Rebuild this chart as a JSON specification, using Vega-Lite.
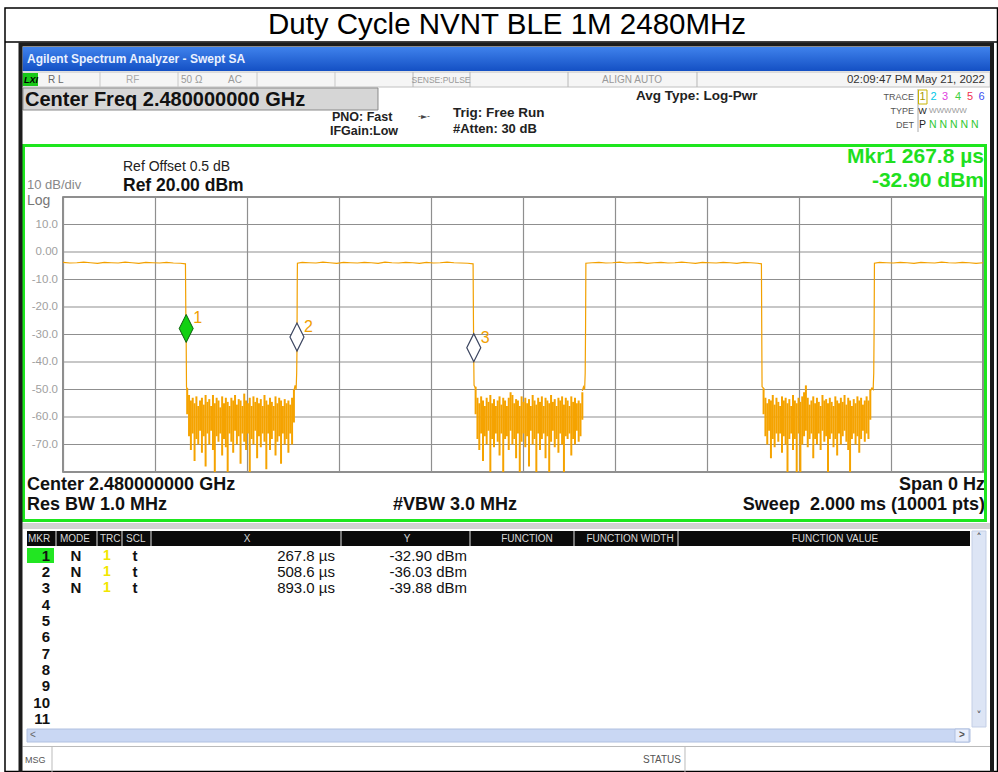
{
"$schema":"https://vega.github.io/schema/vega-lite/v6.json",
"width":920,"height":275,
"autosize":{"type":"none"},
"padding":{"left":63,"top":197,"right":15,"bottom":300},
"background":"#ffffff",
"config":{"view":{"stroke":"#6a6a6a","strokeWidth":1.5},"axis":{"gridColor":"#8f8f8f","gridWidth":1.2,"gridOpacity":1}},
"datasets":{
"one":[{}],
"trace":[
{"seg":"a","t":0.000,"v":-3.8},{"seg":"a","t":0.015,"v":-4.0},{"seg":"a","t":0.030,"v":-3.9},{"seg":"a","t":0.045,"v":-3.7},{"seg":"a","t":0.060,"v":-3.9},{"seg":"a","t":0.075,"v":-4.1},{"seg":"a","t":0.090,"v":-3.8},{"seg":"a","t":0.105,"v":-3.9},{"seg":"a","t":0.120,"v":-4.0},{"seg":"a","t":0.135,"v":-3.7},{"seg":"a","t":0.150,"v":-3.9},{"seg":"a","t":0.165,"v":-4.1},{"seg":"a","t":0.180,"v":-3.8},{"seg":"a","t":0.195,"v":-3.9},{"seg":"a","t":0.210,"v":-4.0},{"seg":"a","t":0.225,"v":-3.8},{"seg":"a","t":0.240,"v":-4.0},{"seg":"a","t":0.255,"v":-4.1},{"seg":"a","t":0.2662,"v":-4.3},{"seg":"a","t":0.2670,"v":-22},{"seg":"a","t":0.2678,"v":-32.9},{"seg":"a","t":0.2685,"v":-49},{"seg":"a","t":0.2700,"v":-50},
{"seg":"b","t":0.5020,"v":-50.5},{"seg":"b","t":0.5045,"v":-48.5},{"seg":"b","t":0.5068,"v":-50},{"seg":"b","t":0.5080,"v":-44},{"seg":"b","t":0.5086,"v":-36.03},{"seg":"b","t":0.5092,"v":-12},{"seg":"b","t":0.5096,"v":-4.1},{"seg":"b","t":0.520,"v":-3.8},{"seg":"b","t":0.535,"v":-3.9},{"seg":"b","t":0.550,"v":-4.0},{"seg":"b","t":0.565,"v":-3.7},{"seg":"b","t":0.580,"v":-3.9},{"seg":"b","t":0.595,"v":-4.1},{"seg":"b","t":0.610,"v":-3.8},{"seg":"b","t":0.625,"v":-3.9},{"seg":"b","t":0.640,"v":-4.0},{"seg":"b","t":0.655,"v":-3.8},{"seg":"b","t":0.670,"v":-3.9},{"seg":"b","t":0.685,"v":-4.1},{"seg":"b","t":0.700,"v":-3.7},{"seg":"b","t":0.715,"v":-3.9},{"seg":"b","t":0.730,"v":-4.0},{"seg":"b","t":0.745,"v":-3.8},{"seg":"b","t":0.760,"v":-3.9},{"seg":"b","t":0.775,"v":-4.1},{"seg":"b","t":0.790,"v":-3.8},{"seg":"b","t":0.805,"v":-4.0},{"seg":"b","t":0.820,"v":-3.9},{"seg":"b","t":0.835,"v":-3.7},{"seg":"b","t":0.850,"v":-3.9},{"seg":"b","t":0.865,"v":-4.0},{"seg":"b","t":0.880,"v":-4.1},{"seg":"b","t":0.8915,"v":-4.3},{"seg":"b","t":0.8923,"v":-25},{"seg":"b","t":0.8930,"v":-39.88},{"seg":"b","t":0.8936,"v":-48.5},{"seg":"b","t":0.8970,"v":-49.5},
{"seg":"c","t":1.1290,"v":-50.5},{"seg":"c","t":1.1315,"v":-49},{"seg":"c","t":1.1340,"v":-50},{"seg":"c","t":1.1352,"v":-44},{"seg":"c","t":1.1360,"v":-28},{"seg":"c","t":1.1367,"v":-4.1},{"seg":"c","t":1.150,"v":-3.9},{"seg":"c","t":1.165,"v":-3.8},{"seg":"c","t":1.180,"v":-4.0},{"seg":"c","t":1.195,"v":-3.9},{"seg":"c","t":1.210,"v":-3.7},{"seg":"c","t":1.225,"v":-4.0},{"seg":"c","t":1.240,"v":-3.9},{"seg":"c","t":1.255,"v":-3.8},{"seg":"c","t":1.270,"v":-4.1},{"seg":"c","t":1.285,"v":-3.9},{"seg":"c","t":1.300,"v":-3.8},{"seg":"c","t":1.315,"v":-4.0},{"seg":"c","t":1.330,"v":-3.9},{"seg":"c","t":1.345,"v":-3.7},{"seg":"c","t":1.360,"v":-3.9},{"seg":"c","t":1.375,"v":-4.1},{"seg":"c","t":1.390,"v":-3.8},{"seg":"c","t":1.405,"v":-3.9},{"seg":"c","t":1.420,"v":-4.0},{"seg":"c","t":1.435,"v":-3.8},{"seg":"c","t":1.450,"v":-3.9},{"seg":"c","t":1.465,"v":-4.1},{"seg":"c","t":1.480,"v":-3.8},{"seg":"c","t":1.495,"v":-3.9},{"seg":"c","t":1.510,"v":-4.1},{"seg":"c","t":1.5183,"v":-4.3},{"seg":"c","t":1.5190,"v":-28},{"seg":"c","t":1.5197,"v":-49},{"seg":"c","t":1.5230,"v":-49.5},
{"seg":"d","t":1.7550,"v":-50.5},{"seg":"d","t":1.7585,"v":-49.5},{"seg":"d","t":1.7612,"v":-50},{"seg":"d","t":1.7625,"v":-44},{"seg":"d","t":1.7633,"v":-28},{"seg":"d","t":1.7640,"v":-4.1},{"seg":"d","t":1.775,"v":-3.8},{"seg":"d","t":1.790,"v":-3.9},{"seg":"d","t":1.805,"v":-4.0},{"seg":"d","t":1.820,"v":-3.8},{"seg":"d","t":1.835,"v":-3.9},{"seg":"d","t":1.850,"v":-4.1},{"seg":"d","t":1.865,"v":-3.8},{"seg":"d","t":1.880,"v":-3.9},{"seg":"d","t":1.895,"v":-4.0},{"seg":"d","t":1.910,"v":-3.7},{"seg":"d","t":1.925,"v":-3.9},{"seg":"d","t":1.940,"v":-4.0},{"seg":"d","t":1.955,"v":-3.8},{"seg":"d","t":1.970,"v":-3.9},{"seg":"d","t":1.985,"v":-4.1},{"seg":"d","t":2.000,"v":-3.9}
],
"noise":[
{"t":0.270,"hi":-49.5,"lo":-59},{"t":0.274,"hi":-52,"lo":-67},{"t":0.278,"hi":-54,"lo":-72},{"t":0.282,"hi":-53,"lo":-66},{"t":0.286,"hi":-55,"lo":-76},{"t":0.290,"hi":-52.5,"lo":-68},{"t":0.294,"hi":-56,"lo":-70},{"t":0.298,"hi":-54,"lo":-65},{"t":0.302,"hi":-53,"lo":-73},{"t":0.306,"hi":-55.5,"lo":-67},{"t":0.310,"hi":-52,"lo":-78},{"t":0.314,"hi":-54.5,"lo":-66},{"t":0.318,"hi":-53.5,"lo":-70},{"t":0.322,"hi":-56,"lo":-65},{"t":0.326,"hi":-52,"lo":-72},{"t":0.330,"hi":-55,"lo":-80},{"t":0.334,"hi":-53,"lo":-67},{"t":0.338,"hi":-54,"lo":-69},{"t":0.342,"hi":-56.5,"lo":-66},{"t":0.346,"hi":-52.5,"lo":-74},{"t":0.350,"hi":-55,"lo":-68},{"t":0.354,"hi":-53,"lo":-71},{"t":0.358,"hi":-54.5,"lo":-80},{"t":0.362,"hi":-56,"lo":-66},{"t":0.366,"hi":-53,"lo":-69},{"t":0.370,"hi":-54,"lo":-73},{"t":0.374,"hi":-52,"lo":-65},{"t":0.378,"hi":-55.5,"lo":-70},{"t":0.382,"hi":-53.5,"lo":-67},{"t":0.386,"hi":-54,"lo":-77},{"t":0.390,"hi":-56,"lo":-66},{"t":0.394,"hi":-51.5,"lo":-69},{"t":0.398,"hi":-54,"lo":-72},{"t":0.402,"hi":-55,"lo":-66},{"t":0.406,"hi":-53,"lo":-80},{"t":0.410,"hi":-56,"lo":-68},{"t":0.414,"hi":-52.5,"lo":-70},{"t":0.418,"hi":-54.5,"lo":-65},{"t":0.422,"hi":-53,"lo":-75},{"t":0.426,"hi":-55,"lo":-67},{"t":0.430,"hi":-53.5,"lo":-71},{"t":0.434,"hi":-56,"lo":-66},{"t":0.438,"hi":-52,"lo":-69},{"t":0.442,"hi":-54,"lo":-79},{"t":0.446,"hi":-55.5,"lo":-66},{"t":0.450,"hi":-53,"lo":-72},{"t":0.454,"hi":-54.5,"lo":-68},{"t":0.458,"hi":-56,"lo":-65},{"t":0.462,"hi":-52.5,"lo":-74},{"t":0.466,"hi":-55,"lo":-69},{"t":0.470,"hi":-53,"lo":-67},{"t":0.474,"hi":-54,"lo":-77},{"t":0.478,"hi":-56,"lo":-66},{"t":0.482,"hi":-53.5,"lo":-70},{"t":0.486,"hi":-55,"lo":-68},{"t":0.490,"hi":-54,"lo":-73},{"t":0.494,"hi":-55.5,"lo":-66},{"t":0.498,"hi":-53,"lo":-70},{"t":0.502,"hi":-50,"lo":-62},
{"t":0.897,"hi":-49,"lo":-59},{"t":0.901,"hi":-53,"lo":-68},{"t":0.905,"hi":-55,"lo":-72},{"t":0.909,"hi":-52.5,"lo":-66},{"t":0.913,"hi":-54,"lo":-76},{"t":0.917,"hi":-56,"lo":-67},{"t":0.921,"hi":-53,"lo":-70},{"t":0.925,"hi":-54.5,"lo":-65},{"t":0.929,"hi":-52,"lo":-80},{"t":0.933,"hi":-55,"lo":-68},{"t":0.937,"hi":-53.5,"lo":-71},{"t":0.941,"hi":-56,"lo":-66},{"t":0.945,"hi":-54,"lo":-69},{"t":0.949,"hi":-52.5,"lo":-74},{"t":0.953,"hi":-55.5,"lo":-66},{"t":0.957,"hi":-53,"lo":-80},{"t":0.961,"hi":-54,"lo":-68},{"t":0.965,"hi":-56,"lo":-67},{"t":0.969,"hi":-53,"lo":-72},{"t":0.973,"hi":-51,"lo":-65},{"t":0.977,"hi":-52,"lo":-70},{"t":0.981,"hi":-55,"lo":-68},{"t":0.985,"hi":-53.5,"lo":-75},{"t":0.989,"hi":-54,"lo":-66},{"t":0.993,"hi":-56,"lo":-80},{"t":0.997,"hi":-52.5,"lo":-69},{"t":1.001,"hi":-54.5,"lo":-66},{"t":1.005,"hi":-53,"lo":-71},{"t":1.009,"hi":-55,"lo":-67},{"t":1.013,"hi":-53.5,"lo":-78},{"t":1.017,"hi":-56,"lo":-65},{"t":1.021,"hi":-52,"lo":-70},{"t":1.025,"hi":-54,"lo":-68},{"t":1.029,"hi":-55.5,"lo":-80},{"t":1.033,"hi":-53,"lo":-66},{"t":1.037,"hi":-54.5,"lo":-72},{"t":1.041,"hi":-52.5,"lo":-68},{"t":1.045,"hi":-56,"lo":-66},{"t":1.049,"hi":-53,"lo":-75},{"t":1.053,"hi":-54,"lo":-67},{"t":1.057,"hi":-55,"lo":-80},{"t":1.061,"hi":-52,"lo":-69},{"t":1.065,"hi":-54.5,"lo":-65},{"t":1.069,"hi":-53.5,"lo":-71},{"t":1.073,"hi":-56,"lo":-68},{"t":1.077,"hi":-53,"lo":-73},{"t":1.081,"hi":-54,"lo":-66},{"t":1.085,"hi":-52.5,"lo":-70},{"t":1.089,"hi":-55.5,"lo":-80},{"t":1.093,"hi":-53,"lo":-67},{"t":1.097,"hi":-54,"lo":-68},{"t":1.101,"hi":-56,"lo":-66},{"t":1.105,"hi":-52.5,"lo":-74},{"t":1.109,"hi":-54.5,"lo":-68},{"t":1.113,"hi":-53,"lo":-70},{"t":1.117,"hi":-55,"lo":-65},{"t":1.121,"hi":-54,"lo":-69},{"t":1.125,"hi":-55,"lo":-67},{"t":1.129,"hi":-51,"lo":-61},
{"t":1.523,"hi":-49.5,"lo":-59},{"t":1.527,"hi":-53,"lo":-67},{"t":1.531,"hi":-55,"lo":-70},{"t":1.535,"hi":-53.5,"lo":-65},{"t":1.539,"hi":-54,"lo":-75},{"t":1.543,"hi":-52,"lo":-68},{"t":1.547,"hi":-55.5,"lo":-71},{"t":1.551,"hi":-53,"lo":-66},{"t":1.555,"hi":-54.5,"lo":-69},{"t":1.559,"hi":-56,"lo":-66},{"t":1.563,"hi":-52.5,"lo":-73},{"t":1.567,"hi":-54,"lo":-67},{"t":1.571,"hi":-53,"lo":-70},{"t":1.575,"hi":-55,"lo":-80},{"t":1.579,"hi":-53.5,"lo":-68},{"t":1.583,"hi":-56,"lo":-66},{"t":1.587,"hi":-52,"lo":-72},{"t":1.591,"hi":-54,"lo":-68},{"t":1.595,"hi":-55,"lo":-80},{"t":1.599,"hi":-53,"lo":-66},{"t":1.603,"hi":-54.5,"lo":-80},{"t":1.607,"hi":-52.5,"lo":-70},{"t":1.611,"hi":-51,"lo":-67},{"t":1.615,"hi":-48.5,"lo":-65},{"t":1.619,"hi":-53,"lo":-71},{"t":1.623,"hi":-55.5,"lo":-68},{"t":1.627,"hi":-54,"lo":-66},{"t":1.631,"hi":-52.5,"lo":-75},{"t":1.635,"hi":-55,"lo":-68},{"t":1.639,"hi":-53,"lo":-70},{"t":1.643,"hi":-54.5,"lo":-66},{"t":1.647,"hi":-56,"lo":-72},{"t":1.651,"hi":-52,"lo":-65},{"t":1.655,"hi":-54,"lo":-69},{"t":1.659,"hi":-53.5,"lo":-67},{"t":1.663,"hi":-55,"lo":-80},{"t":1.667,"hi":-53,"lo":-68},{"t":1.671,"hi":-54.5,"lo":-66},{"t":1.675,"hi":-56,"lo":-71},{"t":1.679,"hi":-52.5,"lo":-68},{"t":1.683,"hi":-54,"lo":-74},{"t":1.687,"hi":-55,"lo":-66},{"t":1.691,"hi":-53,"lo":-70},{"t":1.695,"hi":-54.5,"lo":-67},{"t":1.699,"hi":-52,"lo":-65},{"t":1.703,"hi":-55.5,"lo":-69},{"t":1.707,"hi":-53,"lo":-72},{"t":1.711,"hi":-54,"lo":-80},{"t":1.715,"hi":-56,"lo":-68},{"t":1.719,"hi":-53.5,"lo":-66},{"t":1.723,"hi":-55,"lo":-70},{"t":1.727,"hi":-52.5,"lo":-67},{"t":1.731,"hi":-54,"lo":-73},{"t":1.735,"hi":-53,"lo":-68},{"t":1.739,"hi":-55.5,"lo":-65},{"t":1.743,"hi":-54,"lo":-69},{"t":1.747,"hi":-52.5,"lo":-66},{"t":1.751,"hi":-54,"lo":-68},{"t":1.755,"hi":-50,"lo":-61}
],
"levels":[{"db":20,"lab":""},{"db":10,"lab":"10.0"},{"db":0,"lab":"0.00"},{"db":-10,"lab":"-10.0"},{"db":-20,"lab":"-20.0"},{"db":-30,"lab":"-30.0"},{"db":-40,"lab":"-40.0"},{"db":-50,"lab":"-50.0"},{"db":-60,"lab":"-60.0"},{"db":-70,"lab":"-70.0"},{"db":-80,"lab":""}],
"markers":[
{"mkr":1,"t":0.2678,"v":-32.90,"mode":"N","trc":"1","scl":"t","xs":"267.8 µs","ys":"-32.90 dBm"},
{"mkr":2,"t":0.5086,"v":-36.03,"mode":"N","trc":"1","scl":"t","xs":"508.6 µs","ys":"-36.03 dBm"},
{"mkr":3,"t":0.8930,"v":-39.88,"mode":"N","trc":"1","scl":"t","xs":"893.0 µs","ys":"-39.88 dBm"},
{"mkr":4},{"mkr":5},{"mkr":6},{"mkr":7},{"mkr":8},{"mkr":9},{"mkr":10},{"mkr":11}
]
},
"resolve":{"scale":{"y":"independent"}},
"layer":[
{"layer":[
{"data":{"name":"one"},"mark":{"type":"rect","fill":"transparent","stroke":"#000000","strokeWidth":1.5},"encoding":{"x":{"datum":-0.12609},"x2":{"datum":2.03152},"y":{"datum":88.727},"y2":{"datum":-188.909}}},
{"data":{"name":"one"},"mark":{"type":"rule","color":"#000000","strokeWidth":1.5},"encoding":{"x":{"datum":-0.12609},"x2":{"datum":2.03152},"y":{"datum":76.364}}},
{"data":{"name":"one"},"mark":{"type":"text","text":"Duty Cycle NVNT BLE 1M 2480MHz","align":"center","baseline":"middle","font":"Liberation Sans","fontSize":29.5,"color":"#000000"},"encoding":{"x":{"datum":0.96522},"y":{"datum":82.545}}},
{"data":{"name":"one"},"mark":{"type":"rect","fill":{"gradient":"linear","x1":0,"y1":0,"x2":0,"y2":1,"stops":[{"offset":0,"color":"#3f82ec"},{"offset":1,"color":"#1450c4"}]}},"encoding":{"x":{"datum":-0.08804},"x2":{"datum":2.01522},"y":{"datum":74.545},"y2":{"datum":65.818}}},
{"data":{"name":"one"},"mark":{"type":"text","text":"Agilent Spectrum Analyzer - Swept SA","align":"left","baseline":"middle","font":"Liberation Sans","fontSize":12,"fontWeight":"bold","color":"#eaf1ff"},"encoding":{"x":{"datum":-0.07826},"y":{"datum":70.182}}},
{"data":{"name":"one"},"mark":{"type":"rect","fill":"#f5f5f5","stroke":"#c0c0c0","strokeWidth":1},"encoding":{"x":{"datum":-0.08804},"x2":{"datum":2.01522},"y":{"datum":65.455},"y2":{"datum":60.0}}},
{"data":{"name":"one"},"mark":{"type":"rect","fill":"#19c819"},"encoding":{"x":{"datum":-0.08804},"x2":{"datum":-0.05435},"y":{"datum":65.091},"y2":{"datum":60.364}}},
{"data":{"name":"one"},"mark":{"type":"text","text":"LXI","align":"left","baseline":"middle","font":"Liberation Sans","fontSize":9,"fontWeight":"bold","fontStyle":"italic","color":"#000000"},"encoding":{"x":{"datum":-0.08478},"y":{"datum":62.545}}},
{"data":{"name":"one"},"mark":{"type":"rule","color":"#c8c8c8"},"encoding":{"x":{"datum":0.08043},"y":{"datum":65.455},"y2":{"datum":60.0}}},
{"data":{"name":"one"},"mark":{"type":"rule","color":"#c8c8c8"},"encoding":{"x":{"datum":0.25},"y":{"datum":65.455},"y2":{"datum":60.0}}},
{"data":{"name":"one"},"mark":{"type":"rule","color":"#c8c8c8"},"encoding":{"x":{"datum":0.42174},"y":{"datum":65.455},"y2":{"datum":60.0}}},
{"data":{"name":"one"},"mark":{"type":"rule","color":"#c8c8c8"},"encoding":{"x":{"datum":0.59130},"y":{"datum":65.455},"y2":{"datum":60.0}}},
{"data":{"name":"one"},"mark":{"type":"rule","color":"#b8b8b8"},"encoding":{"x":{"datum":0.76087},"y":{"datum":65.455},"y2":{"datum":60.0}}},
{"data":{"name":"one"},"mark":{"type":"rule","color":"#b8b8b8"},"encoding":{"x":{"datum":0.88478},"y":{"datum":65.455},"y2":{"datum":60.0}}},
{"data":{"name":"one"},"mark":{"type":"rule","color":"#b8b8b8"},"encoding":{"x":{"datum":1.09783},"y":{"datum":65.455},"y2":{"datum":60.0}}},
{"data":{"name":"one"},"mark":{"type":"rule","color":"#b8b8b8"},"encoding":{"x":{"datum":1.37826},"y":{"datum":65.455},"y2":{"datum":60.0}}},
{"data":{"name":"one"},"mark":{"type":"text","text":"R L","align":"left","baseline":"middle","font":"Liberation Sans","fontSize":10,"color":"#666666"},"encoding":{"x":{"datum":-0.03261},"y":{"datum":62.545}}},
{"data":{"name":"one"},"mark":{"type":"text","text":"RF","align":"left","baseline":"middle","font":"Liberation Sans","fontSize":10,"color":"#aaaaaa"},"encoding":{"x":{"datum":0.13696},"y":{"datum":62.545}}},
{"data":{"name":"one"},"mark":{"type":"text","text":"50 Ω","align":"left","baseline":"middle","font":"Liberation Sans","fontSize":10,"color":"#999999"},"encoding":{"x":{"datum":0.25652},"y":{"datum":62.545}}},
{"data":{"name":"one"},"mark":{"type":"text","text":"AC","align":"left","baseline":"middle","font":"Liberation Sans","fontSize":10,"color":"#999999"},"encoding":{"x":{"datum":0.35870},"y":{"datum":62.545}}},
{"data":{"name":"one"},"mark":{"type":"text","text":"SENSE:PULSE","align":"center","baseline":"middle","font":"Liberation Sans","fontSize":8.5,"color":"#999999"},"encoding":{"x":{"datum":0.82174},"y":{"datum":62.545}}},
{"data":{"name":"one"},"mark":{"type":"text","text":"ALIGN AUTO","align":"center","baseline":"middle","font":"Liberation Sans","fontSize":10,"color":"#999999"},"encoding":{"x":{"datum":1.23696},"y":{"datum":62.545}}},
{"data":{"name":"one"},"mark":{"type":"text","text":"02:09:47 PM May 21, 2022","align":"right","baseline":"middle","font":"Liberation Sans","fontSize":11.5,"color":"#333333"},"encoding":{"x":{"datum":2.00435},"y":{"datum":62.545}}},
{"data":{"name":"one"},"mark":{"type":"rect","fill":"#d6d6d6","stroke":"#8a8a8a","strokeWidth":1},"encoding":{"x":{"datum":-0.08696},"x2":{"datum":0.68478},"y":{"datum":59.636},"y2":{"datum":51.636}}},
{"data":{"name":"one"},"mark":{"type":"text","text":"Center Freq 2.480000000 GHz","align":"left","baseline":"middle","font":"Liberation Sans","fontSize":20,"fontWeight":"bold","color":"#111111"},"encoding":{"x":{"datum":-0.08261},"y":{"datum":55.273}}},
{"data":{"name":"one"},"mark":{"type":"text","text":"PNO: Fast","align":"left","baseline":"middle","font":"Liberation Sans","fontSize":12.5,"fontWeight":"bold","color":"#222222"},"encoding":{"x":{"datum":0.58478},"y":{"datum":49.091}}},
{"data":{"name":"one"},"mark":{"type":"text","text":"IFGain:Low","align":"left","baseline":"middle","font":"Liberation Sans","fontSize":12.5,"fontWeight":"bold","color":"#222222"},"encoding":{"x":{"datum":0.58043},"y":{"datum":44.0}}},
{"data":{"name":"one"},"mark":{"type":"text","text":"-►-","align":"center","baseline":"middle","font":"DejaVu Sans","fontSize":8,"color":"#444444"},"encoding":{"x":{"datum":0.78478},"y":{"datum":49.091}}},
{"data":{"name":"one"},"mark":{"type":"text","text":"Trig: Free Run","align":"left","baseline":"middle","font":"Liberation Sans","fontSize":13.5,"fontWeight":"bold","color":"#222222"},"encoding":{"x":{"datum":0.84783},"y":{"datum":50.545}}},
{"data":{"name":"one"},"mark":{"type":"text","text":"#Atten: 30 dB","align":"left","baseline":"middle","font":"Liberation Sans","fontSize":13,"fontWeight":"bold","color":"#222222"},"encoding":{"x":{"datum":0.84783},"y":{"datum":44.727}}},
{"data":{"name":"one"},"mark":{"type":"text","text":"Avg Type: Log-Pwr","align":"left","baseline":"middle","font":"Liberation Sans","fontSize":13.5,"fontWeight":"bold","color":"#222222"},"encoding":{"x":{"datum":1.24565},"y":{"datum":56.727}}},
{"data":{"name":"one"},"mark":{"type":"text","text":"TRACE","align":"right","baseline":"middle","font":"Liberation Sans","fontSize":9,"color":"#555555"},"encoding":{"x":{"datum":1.85},"y":{"datum":56.364}}},
{"data":{"name":"one"},"mark":{"type":"text","text":"TYPE","align":"right","baseline":"middle","font":"Liberation Sans","fontSize":9,"color":"#555555"},"encoding":{"x":{"datum":1.85},"y":{"datum":51.273}}},
{"data":{"name":"one"},"mark":{"type":"text","text":"DET","align":"right","baseline":"middle","font":"Liberation Sans","fontSize":9,"color":"#555555"},"encoding":{"x":{"datum":1.85},"y":{"datum":46.182}}},
{"data":{"name":"one"},"mark":{"type":"rule","color":"#aaaaaa"},"encoding":{"x":{"datum":1.85870},"y":{"datum":59.273},"y2":{"datum":43.636}}},
{"data":{"name":"one"},"mark":{"type":"rect","fill":"transparent","stroke":"#c8b400","strokeWidth":1},"encoding":{"x":{"datum":1.85978},"x2":{"datum":1.87826},"y":{"datum":58.909},"y2":{"datum":53.818}}},
{"data":{"name":"one"},"mark":{"type":"text","text":"1","align":"center","baseline":"middle","font":"Liberation Sans","fontSize":11,"color":"#a89a00"},"encoding":{"x":{"datum":1.86848},"y":{"datum":56.364}}},
{"data":{"name":"one"},"mark":{"type":"text","text":"2","align":"center","baseline":"middle","font":"Liberation Sans","fontSize":11,"color":"#00c8e8"},"encoding":{"x":{"datum":1.89239},"y":{"datum":56.364}}},
{"data":{"name":"one"},"mark":{"type":"text","text":"3","align":"center","baseline":"middle","font":"Liberation Sans","fontSize":11,"color":"#e040e0"},"encoding":{"x":{"datum":1.91739},"y":{"datum":56.364}}},
{"data":{"name":"one"},"mark":{"type":"text","text":"4","align":"center","baseline":"middle","font":"Liberation Sans","fontSize":11,"color":"#40d040"},"encoding":{"x":{"datum":1.94565},"y":{"datum":56.364}}},
{"data":{"name":"one"},"mark":{"type":"text","text":"5","align":"center","baseline":"middle","font":"Liberation Sans","fontSize":11,"color":"#f03050"},"encoding":{"x":{"datum":1.97174},"y":{"datum":56.364}}},
{"data":{"name":"one"},"mark":{"type":"text","text":"6","align":"center","baseline":"middle","font":"Liberation Sans","fontSize":11,"color":"#4050f0"},"encoding":{"x":{"datum":1.99674},"y":{"datum":56.364}}},
{"data":{"name":"one"},"mark":{"type":"text","text":"W","align":"center","baseline":"middle","font":"Liberation Sans","fontSize":9,"color":"#222222"},"encoding":{"x":{"datum":1.86848},"y":{"datum":51.273}}},
{"data":{"name":"one"},"mark":{"type":"text","text":"WWWWW","align":"left","baseline":"middle","font":"Liberation Sans","fontSize":8,"color":"#999999"},"encoding":{"x":{"datum":1.88261},"y":{"datum":51.273}}},
{"data":{"name":"one"},"mark":{"type":"text","text":"P","align":"center","baseline":"middle","font":"Liberation Sans","fontSize":10.5,"color":"#222222"},"encoding":{"x":{"datum":1.86848},"y":{"datum":46.182}}},
{"data":{"name":"one"},"mark":{"type":"text","text":"N N N N N","align":"left","baseline":"middle","font":"Liberation Sans","fontSize":10.5,"color":"#30c830"},"encoding":{"x":{"datum":1.88261},"y":{"datum":46.182}}},
{"data":{"name":"one"},"mark":{"type":"text","text":"Ref Offset 0.5 dB","align":"left","baseline":"middle","font":"Liberation Sans","fontSize":14,"color":"#222222"},"encoding":{"x":{"datum":0.13043},"y":{"datum":30.909}}},
{"data":{"name":"one"},"mark":{"type":"text","text":"Ref 20.00 dBm","align":"left","baseline":"middle","font":"Liberation Sans","fontSize":17.5,"fontWeight":"bold","color":"#111111"},"encoding":{"x":{"datum":0.13043},"y":{"datum":24.0}}},
{"data":{"name":"one"},"mark":{"type":"text","text":"10 dB/div","align":"left","baseline":"middle","font":"Liberation Sans","fontSize":13,"color":"#888888"},"encoding":{"x":{"datum":-0.07826},"y":{"datum":24.364}}},
{"data":{"name":"one"},"mark":{"type":"text","text":"Log","align":"left","baseline":"middle","font":"Liberation Sans","fontSize":14,"color":"#777777"},"encoding":{"x":{"datum":-0.07826},"y":{"datum":18.545}}},
{"data":{"name":"one"},"mark":{"type":"text","text":"Mkr1 267.8 µs","align":"right","baseline":"middle","font":"Liberation Sans","fontSize":21,"fontWeight":"bold","color":"#1fe01f"},"encoding":{"x":{"datum":2.00217},"y":{"datum":34.545}}},
{"data":{"name":"one"},"mark":{"type":"text","text":"-32.90 dBm","align":"right","baseline":"middle","font":"Liberation Sans","fontSize":21,"fontWeight":"bold","color":"#1fe01f"},"encoding":{"x":{"datum":2.00217},"y":{"datum":25.818}}},
{"data":{"name":"one"},"mark":{"type":"text","text":"Center 2.480000000 GHz","align":"left","baseline":"middle","font":"Liberation Sans","fontSize":18,"fontWeight":"bold","color":"#111111"},"encoding":{"x":{"datum":-0.07826},"y":{"datum":-84.727}}},
{"data":{"name":"one"},"mark":{"type":"text","text":"Res BW 1.0 MHz","align":"left","baseline":"middle","font":"Liberation Sans","fontSize":18,"fontWeight":"bold","color":"#111111"},"encoding":{"x":{"datum":-0.07826},"y":{"datum":-92.0}}},
{"data":{"name":"one"},"mark":{"type":"text","text":"#VBW 3.0 MHz","align":"left","baseline":"middle","font":"Liberation Sans","fontSize":18,"fontWeight":"bold","color":"#111111"},"encoding":{"x":{"datum":0.71739},"y":{"datum":-92.0}}},
{"data":{"name":"one"},"mark":{"type":"text","text":"Span 0 Hz","align":"right","baseline":"middle","font":"Liberation Sans","fontSize":18,"fontWeight":"bold","color":"#111111"},"encoding":{"x":{"datum":2.00435},"y":{"datum":-84.727}}},
{"data":{"name":"one"},"mark":{"type":"text","text":"Sweep \u00a02.000 ms (10001 pts)","align":"right","baseline":"middle","font":"Liberation Sans","fontSize":18,"fontWeight":"bold","color":"#111111"},"encoding":{"x":{"datum":2.00435},"y":{"datum":-92.0}}},
{"data":{"name":"one"},"mark":{"type":"rect","fill":"transparent","stroke":"#1ee61e","strokeWidth":3},"encoding":{"x":{"datum":-0.08587},"x2":{"datum":2.00543},"y":{"datum":38.727},"y2":{"datum":-97.636}}},
{"data":{"name":"one"},"mark":{"type":"rect","fill":"#d2d2d2"},"encoding":{"x":{"datum":-0.08804},"x2":{"datum":2.01522},"y":{"datum":-98.545},"y2":{"datum":-100.727}}},
{"data":{"name":"one"},"mark":{"type":"rect","fill":"#0a0a0a"},"encoding":{"x":{"datum":-0.07826},"x2":{"datum":1.97174},"y":{"datum":-101.455},"y2":{"datum":-106.909}}},
{"data":{"name":"one"},"mark":{"type":"rule","color":"#9a9a9a","strokeWidth":1.5},"encoding":{"x":{"datum":-0.01522},"y":{"datum":-101.455},"y2":{"datum":-106.909}}},
{"data":{"name":"one"},"mark":{"type":"rule","color":"#9a9a9a","strokeWidth":1.5},"encoding":{"x":{"datum":0.07391},"y":{"datum":-101.455},"y2":{"datum":-106.909}}},
{"data":{"name":"one"},"mark":{"type":"rule","color":"#9a9a9a","strokeWidth":1.5},"encoding":{"x":{"datum":0.12826},"y":{"datum":-101.455},"y2":{"datum":-106.909}}},
{"data":{"name":"one"},"mark":{"type":"rule","color":"#9a9a9a","strokeWidth":1.5},"encoding":{"x":{"datum":0.19130},"y":{"datum":-101.455},"y2":{"datum":-106.909}}},
{"data":{"name":"one"},"mark":{"type":"rule","color":"#9a9a9a","strokeWidth":1.5},"encoding":{"x":{"datum":0.60435},"y":{"datum":-101.455},"y2":{"datum":-106.909}}},
{"data":{"name":"one"},"mark":{"type":"rule","color":"#9a9a9a","strokeWidth":1.5},"encoding":{"x":{"datum":0.88478},"y":{"datum":-101.455},"y2":{"datum":-106.909}}},
{"data":{"name":"one"},"mark":{"type":"rule","color":"#9a9a9a","strokeWidth":1.5},"encoding":{"x":{"datum":1.11087},"y":{"datum":-101.455},"y2":{"datum":-106.909}}},
{"data":{"name":"one"},"mark":{"type":"rule","color":"#9a9a9a","strokeWidth":1.5},"encoding":{"x":{"datum":1.33696},"y":{"datum":-101.455},"y2":{"datum":-106.909}}},
{"data":{"name":"one"},"mark":{"type":"text","text":"MKR","align":"left","baseline":"middle","font":"Liberation Sans","fontSize":10,"color":"#d8d8d8"},"encoding":{"x":{"datum":-0.07609},"y":{"datum":-104.182}}},
{"data":{"name":"one"},"mark":{"type":"text","text":"MODE","align":"left","baseline":"middle","font":"Liberation Sans","fontSize":10,"color":"#d8d8d8"},"encoding":{"x":{"datum":-0.00652},"y":{"datum":-104.182}}},
{"data":{"name":"one"},"mark":{"type":"text","text":"TRC","align":"left","baseline":"middle","font":"Liberation Sans","fontSize":10,"color":"#d8d8d8"},"encoding":{"x":{"datum":0.08043},"y":{"datum":-104.182}}},
{"data":{"name":"one"},"mark":{"type":"text","text":"SCL","align":"left","baseline":"middle","font":"Liberation Sans","fontSize":10,"color":"#d8d8d8"},"encoding":{"x":{"datum":0.13696},"y":{"datum":-104.182}}},
{"data":{"name":"one"},"mark":{"type":"text","text":"X","align":"center","baseline":"middle","font":"Liberation Sans","fontSize":10,"color":"#d8d8d8"},"encoding":{"x":{"datum":0.4},"y":{"datum":-104.182}}},
{"data":{"name":"one"},"mark":{"type":"text","text":"Y","align":"center","baseline":"middle","font":"Liberation Sans","fontSize":10,"color":"#d8d8d8"},"encoding":{"x":{"datum":0.74783},"y":{"datum":-104.182}}},
{"data":{"name":"one"},"mark":{"type":"text","text":"FUNCTION","align":"center","baseline":"middle","font":"Liberation Sans","fontSize":10,"color":"#d8d8d8"},"encoding":{"x":{"datum":1.00870},"y":{"datum":-104.182}}},
{"data":{"name":"one"},"mark":{"type":"text","text":"FUNCTION WIDTH","align":"center","baseline":"middle","font":"Liberation Sans","fontSize":10,"color":"#d8d8d8"},"encoding":{"x":{"datum":1.23261},"y":{"datum":-104.182}}},
{"data":{"name":"one"},"mark":{"type":"text","text":"FUNCTION VALUE","align":"center","baseline":"middle","font":"Liberation Sans","fontSize":10,"color":"#d8d8d8"},"encoding":{"x":{"datum":1.67826},"y":{"datum":-104.182}}},
{"data":{"name":"one"},"mark":{"type":"rect","fill":"#22e622"},"encoding":{"x":{"datum":-0.07826},"x2":{"datum":-0.01957},"y":{"datum":-107.636},"y2":{"datum":-113.091}}},
{"data":{"name":"one"},"mark":{"type":"rect","fill":"#c9d7f3","stroke":"#b0c0e0","strokeWidth":1},"encoding":{"x":{"datum":-0.07826},"x2":{"datum":1.97174},"y":{"datum":-173.455},"y2":{"datum":-178.182}}},
{"data":{"name":"one"},"mark":{"type":"text","text":"<","align":"center","baseline":"middle","font":"Liberation Sans","fontSize":10,"color":"#666666"},"encoding":{"x":{"datum":-0.06522},"y":{"datum":-175.818}}},
{"data":{"name":"one"},"mark":{"type":"rect","fill":"#e8eefc","stroke":"#b0c0e0","strokeWidth":1},"encoding":{"x":{"datum":1.93913},"x2":{"datum":1.96957},"y":{"datum":-173.455},"y2":{"datum":-178.182}}},
{"data":{"name":"one"},"mark":{"type":"text","text":">","align":"center","baseline":"middle","font":"Liberation Sans","fontSize":10,"fontWeight":"bold","color":"#555555"},"encoding":{"x":{"datum":1.95435},"y":{"datum":-175.818}}},
{"data":{"name":"one"},"mark":{"type":"rect","fill":"#dde5f5","stroke":"#c4cfe6","strokeWidth":1},"encoding":{"x":{"datum":1.97609},"x2":{"datum":2.00652},"y":{"datum":-101.455},"y2":{"datum":-172.727}}},
{"data":{"name":"one"},"mark":{"type":"text","text":"˄","align":"center","baseline":"middle","font":"DejaVu Sans","fontSize":10,"fontWeight":"bold","color":"#555555"},"encoding":{"x":{"datum":1.99130},"y":{"datum":-104.0}}},
{"data":{"name":"one"},"mark":{"type":"text","text":"˅","align":"center","baseline":"middle","font":"DejaVu Sans","fontSize":10,"fontWeight":"bold","color":"#555555"},"encoding":{"x":{"datum":1.99130},"y":{"datum":-168.727}}},
{"data":{"name":"one"},"mark":{"type":"rule","color":"#bbbbbb"},"encoding":{"x":{"datum":-0.08804},"x2":{"datum":2.01522},"y":{"datum":-179.818}}},
{"data":{"name":"one"},"mark":{"type":"text","text":"MSG","align":"left","baseline":"middle","font":"Liberation Sans","fontSize":9,"color":"#555555"},"encoding":{"x":{"datum":-0.08261},"y":{"datum":-184.727}}},
{"data":{"name":"one"},"mark":{"type":"rule","color":"#bbbbbb"},"encoding":{"x":{"datum":-0.02391},"y":{"datum":-180.0},"y2":{"datum":-189.091}}},
{"data":{"name":"one"},"mark":{"type":"text","text":"STATUS","align":"center","baseline":"middle","font":"Liberation Sans","fontSize":10,"color":"#555555"},"encoding":{"x":{"datum":1.30217},"y":{"datum":-184.727}}},
{"data":{"name":"one"},"mark":{"type":"rule","color":"#bbbbbb"},"encoding":{"x":{"datum":1.35217},"y":{"datum":-180.0},"y2":{"datum":-189.091}}},
{"data":{"name":"one"},"mark":{"type":"rect","fill":"transparent","stroke":"#1c1c1c","strokeWidth":4},"encoding":{"x":{"datum":-0.09239},"x2":{"datum":2.01957},"y":{"datum":75.455},"y2":{"datum":-190.5}}},
{"data":{"name":"levels"},"mark":{"type":"rule","color":"#8f8f8f","strokeWidth":1.2},"encoding":{"x":{"datum":0},"x2":{"datum":2},"y":{"field":"db","type":"quantitative"}}},
{"data":{"name":"levels"},"mark":{"type":"text","align":"right","baseline":"middle","dx":-5,"font":"Liberation Sans","fontSize":11.5,"color":"#a0a0a0"},"encoding":{"x":{"datum":0},"y":{"field":"db","type":"quantitative"},"text":{"field":"lab","type":"nominal"}}},
{"data":{"name":"noise"},"mark":{"type":"rule","color":"#f5a300","strokeWidth":2},"encoding":{"x":{"field":"t","type":"quantitative"},"y":{"field":"hi","type":"quantitative"},"y2":{"field":"lo"}}},
{"data":{"name":"trace"},"mark":{"type":"line","color":"#f2a000","strokeWidth":1.2},"encoding":{
 "x":{"field":"t","type":"quantitative","scale":{"domain":[0,2],"nice":false,"zero":false},"axis":{"values":[0,0.2,0.4,0.6,0.8,1,1.2,1.4,1.6,1.8,2],"grid":true,"labels":false,"ticks":false,"tickSize":0,"domain":false,"title":null}},
 "y":{"field":"v","type":"quantitative","scale":{"domain":[-80,20],"nice":false,"zero":false},"axis":{"grid":false,"labels":false,"ticks":false,"tickSize":0,"domain":false,"title":null}},
 "detail":{"field":"seg","type":"nominal"}}},
{"data":{"name":"markers"},"transform":[{"filter":"datum.mkr == 1"}],"mark":{"type":"point","shape":"M0,0L-0.5,-1L0,-2L0.5,-1Z","size":784,"filled":true,"fill":"#12d012","stroke":"#0b5e0b","strokeWidth":1,"opacity":1},"encoding":{"x":{"field":"t","type":"quantitative"},"y":{"field":"v","type":"quantitative"}}},
{"data":{"name":"markers"},"transform":[{"filter":"datum.mkr == 2 || datum.mkr == 3"}],"mark":{"type":"point","shape":"M0,0L-0.5,-1L0,-2L0.5,-1Z","size":784,"filled":true,"fill":"#ffffff","stroke":"#3c4660","strokeWidth":1.2,"opacity":1},"encoding":{"x":{"field":"t","type":"quantitative"},"y":{"field":"v","type":"quantitative"}}},
{"data":{"name":"markers"},"transform":[{"filter":"datum.mkr <= 3"}],"mark":{"type":"text","align":"left","baseline":"middle","dx":7,"dy":-24,"font":"Liberation Sans","fontSize":16,"color":"#f0a000"},"encoding":{"x":{"field":"t","type":"quantitative"},"y":{"field":"v","type":"quantitative"},"text":{"field":"mkr","type":"nominal"}}}
]},
{"data":{"name":"markers"},"layer":[
{"mark":{"type":"text","align":"right","baseline":"middle","font":"Liberation Sans","fontSize":15,"fontWeight":"bold","color":"#111111"},"encoding":{"x":{"datum":-0.02826},"y":{"field":"mkr","type":"quantitative","scale":{"domain":[-20.965,-4.125],"reverse":true,"nice":false,"zero":false},"axis":null},"text":{"field":"mkr","type":"nominal"}}},
{"transform":[{"filter":"datum.mkr <= 3"}],"mark":{"type":"text","align":"center","baseline":"middle","font":"Liberation Sans","fontSize":15,"fontWeight":"bold","color":"#111111"},"encoding":{"x":{"datum":0.02826},"y":{"field":"mkr","type":"quantitative","axis":null},"text":{"field":"mode","type":"nominal"}}},
{"transform":[{"filter":"datum.mkr <= 3"}],"mark":{"type":"text","align":"center","baseline":"middle","font":"Liberation Sans","fontSize":14,"fontWeight":"bold","color":"#f2e600"},"encoding":{"x":{"datum":0.09565},"y":{"field":"mkr","type":"quantitative","axis":null},"text":{"field":"trc","type":"nominal"}}},
{"transform":[{"filter":"datum.mkr <= 3"}],"mark":{"type":"text","align":"center","baseline":"middle","font":"Liberation Sans","fontSize":15,"fontWeight":"bold","color":"#111111"},"encoding":{"x":{"datum":0.15652},"y":{"field":"mkr","type":"quantitative","axis":null},"text":{"field":"scl","type":"nominal"}}},
{"transform":[{"filter":"datum.mkr <= 3"}],"mark":{"type":"text","align":"right","baseline":"middle","font":"Liberation Sans","fontSize":15,"color":"#111111"},"encoding":{"x":{"datum":0.59130},"y":{"field":"mkr","type":"quantitative","axis":null},"text":{"field":"xs","type":"nominal"}}},
{"transform":[{"filter":"datum.mkr <= 3"}],"mark":{"type":"text","align":"right","baseline":"middle","font":"Liberation Sans","fontSize":15,"color":"#111111"},"encoding":{"x":{"datum":0.87826},"y":{"field":"mkr","type":"quantitative","axis":null},"text":{"field":"ys","type":"nominal"}}}
]}
]
}
